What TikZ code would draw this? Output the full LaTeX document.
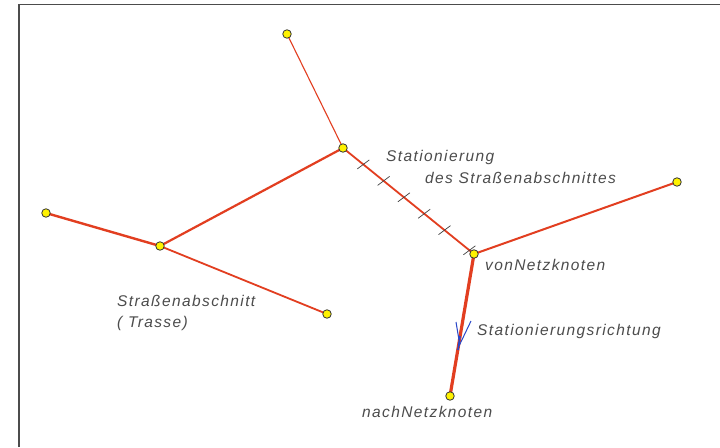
\documentclass[tikz,border=0pt]{standalone}
\usepackage{fontspec}
\setmainfont{Liberation Sans}
\newfontfamily\lblfont[LetterSpace=9]{Liberation Sans}
\usetikzlibrary{calc,backgrounds}
\begin{document}
\begin{tikzpicture}[x=1pt,y=-1pt,
  knot/.style={circle,draw=black!80,fill=yellow,line width=0.8pt,inner sep=0pt,minimum size=8.5pt},
  road/.style={draw={rgb,255:red,226;green,62;blue,32},line width=#1},
  road/.default=1.6pt,
  tick/.style={draw=black!75,line width=0.7pt},
  lbl/.style={font=\lblfont\itshape\fontsize{15.5}{18}\selectfont,text=black!70,inner sep=0pt,anchor=west},
  dirmark/.style={draw={rgb,255:red,40;green,70;blue,200},line width=1pt}
]
\useasboundingbox (0,0) rectangle (720,447);

% nodes
\node[knot] (A) at (287,34) {};
\node[knot] (B) at (343,148) {};
\node[knot] (C) at (46,213) {};
\node[knot] (D) at (160,246) {};
\node[knot] (E) at (327,314) {};
\node[knot] (F) at (474,254) {};
\node[knot] (G) at (677,182) {};
\node[knot] (H) at (450,396) {};

\begin{scope}[on background layer]
\fill[white] (0,0) rectangle (720,447);
\draw[black!70,line width=1.5pt] (19,447) -- (19,4.5) -- (720,4.5);
% roads
\draw[road=1.1pt] (A.center) -- (B.center);
\draw[road=2.2pt] (B.center) -- (D.center);
\draw[road=2.4pt] (C.center) -- (D.center);
\draw[road=1.8pt] (D.center) -- (E.center);
\draw[road=1.8pt] (B.center) -- (F.center);
\draw[road=2pt] (F.center) -- (G.center);
\draw[road=3.2pt] (F.center) -- (H.center);
\end{scope}

% ticks along B-F
\foreach \t in {0.155,0.31,0.465,0.62,0.775,0.965}{
  \draw[tick] ($(B)!\t!(F)$) ++(-6,4.5) -- ++(12,-9);
}

% direction mark
\draw[dirmark] (456,322) -- (459,340);
\draw[dirmark] (471,321) -- (459,346);
\draw[dirmark,line width=1.6pt] (460,336) -- (458,350);

% labels
\node[lbl] (t1) at (386,157) {Stationierung};
\node[lbl] (t2) at (425,178) {des Straßenabschnittes};
\node[lbl] (t3) at (485,265) {vonNetzknoten};
\node[lbl] (t4) at (477,331) {Stationierungsrichtung};
\node[lbl] (t5) at (362,412) {nachNetzknoten};
\node[lbl] (t6) at (117,301) {Straßenabschnitt};
\node[lbl] (t7) at (117,323) {( Trasse)};
\end{tikzpicture}
\end{document}
